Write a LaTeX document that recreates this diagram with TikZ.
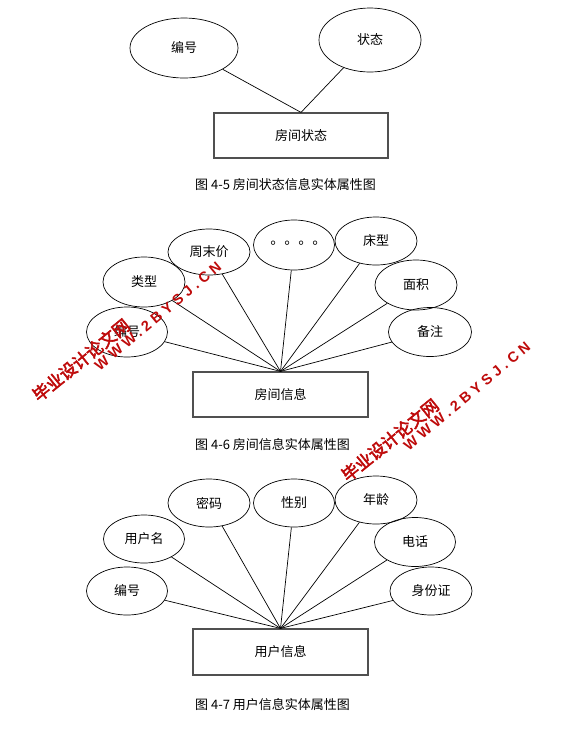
\documentclass[tikz,border=0pt]{standalone}
\usepackage{fontspec}
\setmainfont{Noto Sans CJK SC}
\newfontfamily\cjktc{Noto Sans CJK TC}
\newfontfamily\wmcjk[FakeBold=3]{Noto Sans CJK SC}
\newfontfamily\wmlat[LetterSpace=28]{Liberation Sans}
\usetikzlibrary{shapes.geometric}
\definecolor{wmred}{RGB}{190,10,10}
\definecolor{rectgray}{RGB}{80,80,80}
\tikzset{
  attr/.style={ellipse, draw=black, line width=0.7pt, inner sep=0pt,
    minimum width=82pt, minimum height=48pt, font=\fontsize{13}{15}\selectfont},
  entity/.style={rectangle, draw=rectgray, line width=1.2pt, inner sep=0pt,
    minimum width=175pt, minimum height=45pt, font=\fontsize{13}{15}\selectfont},
  link/.style={draw=black, line width=0.7pt},
  caption/.style={anchor=west, inner sep=0pt, font=\fontsize{13}{15}\selectfont},
  wmzh/.style={text=wmred, inner sep=0pt, rotate=39, font=\wmcjk\fontsize{17}{18}\selectfont},
  wmen/.style={text=wmred, inner sep=0pt, rotate=40, font=\wmlat\bfseries\fontsize{14.5}{16}\selectfont}
}
\begin{document}
\begin{tikzpicture}[x=1pt,y=-1pt]
\useasboundingbox (0,0) rectangle (573,740);
% ---------- Figure 4-5 ----------
\node[attr, minimum width=108pt, minimum height=60pt] (a1) at (184,48) {编号};
\node[attr, minimum width=102pt, minimum height=64pt] (a2) at (370,40) {状态};
\node[entity, minimum width=174pt] (r1) at (301,135.5) {房间状态};
\coordinate (h1) at (r1.north);
\draw[link] (a1) -- (h1);
\draw[link] (a2) -- (h1);
\node[caption] (c1) at (195,185) {图 4-5 房间状态信息实体属性图};
% ---------- Figure 4-6 ----------
\node[attr, minimum height=46pt] (b1) at (209,252) {周末价};
\node[attr, minimum width=81pt, minimum height=50pt] (b2) at (294,245) {\cjktc\fontsize{14}{15}\selectfont 。。。。};
\node[attr] (b3) at (376,241) {床型};
\node[attr, minimum height=50pt] (b4) at (144,282) {类型};
\node[attr, minimum height=50pt] (b5) at (416,285) {面积};
\node[attr, minimum width=81pt, minimum height=50pt] (b6) at (127,332) {编号};
\node[attr, minimum width=83pt, minimum height=49pt] (b7) at (430,332) {备注};
\node[entity] (r2) at (280.5,394.5) {房间信息};
\coordinate (h2) at (r2.north);
\foreach \n in {b1,b2,b3,b4,b5,b6,b7} \draw[link] (\n) -- (h2);
\node[caption] (c2) at (195,445) {图 4-6 房间信息实体属性图};
% ---------- Figure 4-7 ----------
\node[attr] (u1) at (209,503) {密码};
\node[attr, minimum width=81pt] (u2) at (294,503) {性别};
\node[attr] (u3) at (376,500) {年龄};
\node[attr, minimum width=81pt] (u4) at (144,539) {用户名};
\node[attr, minimum width=81pt, minimum height=49pt] (u5) at (415,542) {电话};
\node[attr, minimum width=81pt] (u6) at (127,591) {编号};
\node[attr] (u7) at (431,591) {身份证};
\node[entity, minimum height=46pt] (r3) at (280.5,652) {用户信息};
\coordinate (h3) at (r3.north);
\foreach \n in {u1,u2,u3,u4,u5,u6,u7} \draw[link] (\n) -- (h3);
\node[caption] (c3) at (195,705) {图 4-7 用户信息实体属性图};
% ---------- watermarks ----------
\node[wmzh] (w1) at (81,360) {毕业设计论文网};
\node[wmen] (w2) at (158,316) {WWW.2BYSJ.CN};
\node[wmzh] (w3) at (390,440) {毕业设计论文网};
\node[wmen] (w4) at (467,396) {WWW.2BYSJ.CN};
\end{tikzpicture}
\end{document}
